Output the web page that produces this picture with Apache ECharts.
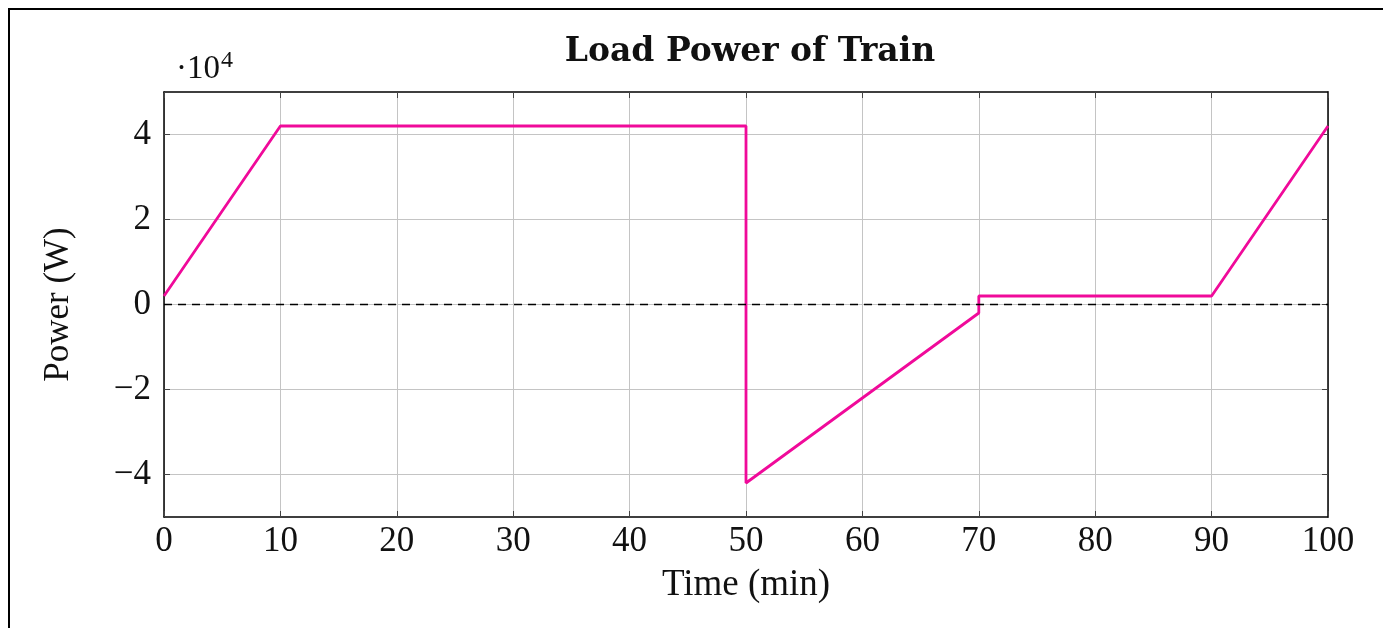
<!DOCTYPE html>
<html><head><meta charset="utf-8">
<script src="https://cdn.jsdelivr.net/npm/echarts@6/dist/echarts.min.js"></script>
<style>html,body{margin:0;padding:0;background:#fff}#c{width:1383px;height:628px}</style>
</head><body><div id="c"></div>
<script>
const timeMin = [0, 10, 50, 50, 70, 70, 90, 100];
const powerW = [2000, 42000, 42000, -42000, -2000, 2000, 2000, 42000];
const xTicks = [0, 10, 20, 30, 40, 50, 60, 70, 80, 90, 100];
const yTicks = [-40000, -20000, 0, 20000, 40000];
const yTickLabels = ['\u22124', '\u22122', '0', '2', '4'];
const titleText = 'Load Power of Train';
const xName = 'Time (min)';
const yName = 'Power (W)';

const serif = 'Liberation Serif';
const chart = echarts.init(document.getElementById('c'));
const tickStyle = { show: true, inside: true, length: 6, lineStyle: { color: '#444', width: 1 } };
const axisLine = { show: true, onZero: false, lineStyle: { color: '#000', width: 1.5 } };
const gridLine = { show: true, lineStyle: { color: '#c4c4c4', width: 1 } };

chart.setOption({
  animation: false,
  backgroundColor: '#fff',
  title: {
    text: titleText, left: 745, top: 31, textAlign: 'center',
    textStyle: { fontFamily: 'DejaVu Serif', fontWeight: 'bold', fontSize: 33, color: '#111' }
  },
  grid: { left: 164, right: 55, top: 92, bottom: 111 },
  graphic: [
    { type: 'rect', shape: { x: 9, y: 9, width: 1420, height: 700 }, style: { fill: 'none', stroke: '#000', lineWidth: 2 }, silent: true },
    { type: 'text', left: 176, top: 53, style: { text: '\u00b710', fontFamily: serif, fontSize: 33, fill: '#111' } },
    { type: 'text', left: 221, top: 49, style: { text: '4', fontFamily: serif, fontSize: 24, fill: '#111' } }
  ],
  xAxis: [{
    type: 'value', min: 0, max: 100, interval: 10, position: 'bottom',
    name: xName, nameLocation: 'middle', nameGap: 50,
    nameTextStyle: { fontFamily: serif, fontSize: 37, color: '#111' },
    axisLine: axisLine, axisTick: Object.assign({ customValues: xTicks }, tickStyle),
    axisLabel: { customValues: xTicks, fontFamily: serif, fontSize: 35, color: '#111', margin: 7 },
    splitLine: gridLine
  }, {
    type: 'value', min: 0, max: 100, interval: 10, position: 'top',
    axisLine: axisLine, axisTick: tickStyle, axisLabel: { show: false }, splitLine: { show: false }
  }],
  yAxis: [{
    type: 'value', min: -50000, max: 50000, interval: 10000, position: 'left',
    name: yName, nameLocation: 'middle', nameGap: 88, nameRotate: 90,
    nameTextStyle: { fontFamily: serif, fontSize: 35, color: '#111' },
    axisLine: axisLine, axisTick: Object.assign({ customValues: yTicks }, tickStyle),
    axisLabel: {
      customValues: yTicks, fontFamily: serif, fontSize: 35, color: '#111', margin: 13,
      formatter: v => { const i = yTicks.indexOf(v); return i >= 0 ? yTickLabels[i] : ''; }
    },
    splitLine: gridLine
  }, {
    type: 'value', min: -50000, max: 50000, interval: 10000, position: 'right',
    axisLine: axisLine, axisTick: Object.assign({ customValues: yTicks }, tickStyle),
    axisLabel: { show: false }, splitLine: { show: false }
  }],
  series: [{
    type: 'line', xAxisIndex: 0, yAxisIndex: 0,
    data: timeMin.map((t, i) => [t, powerW[i]]),
    showSymbol: false, symbol: 'none',
    lineStyle: { color: '#f00a9a', width: 2.8 },
    markLine: {
      silent: true, symbol: 'none', label: { show: false },
      lineStyle: { color: '#000', type: [8, 6], width: 1.3 },
      data: [{ yAxis: 0 }]
    },
    z: 3
  }]
});
</script></body></html>
